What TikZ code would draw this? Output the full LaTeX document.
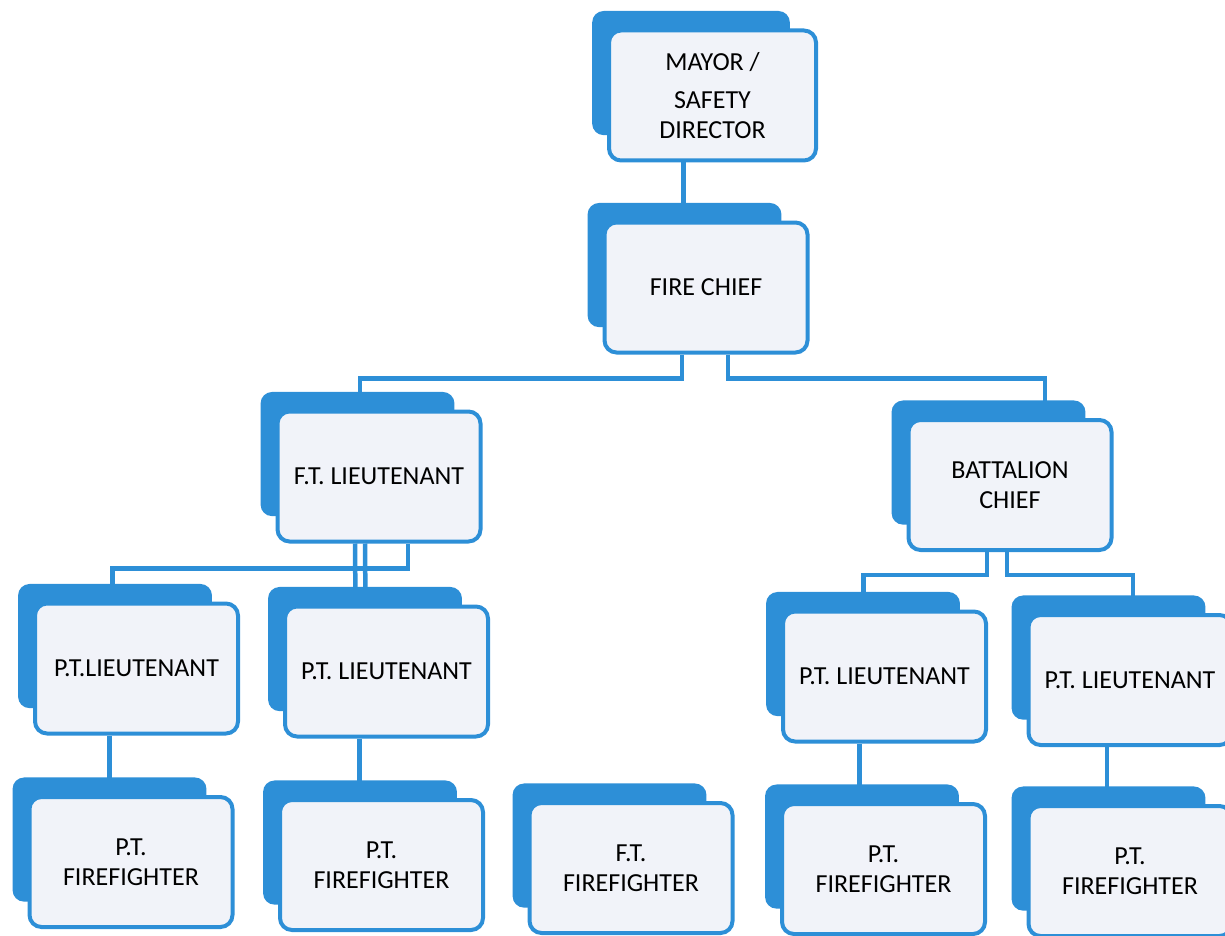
\documentclass[tikz,border=0pt]{standalone}
\usepackage{fontspec}
\setmainfont{Carlito}
\usetikzlibrary{shadows,backgrounds}
\definecolor{orgblue}{RGB}{45,143,215}
\definecolor{boxfill}{RGB}{241,243,249}
\tikzset{
	box/.style={draw=orgblue,line width=4pt,fill=boxfill,rounded corners=12pt,
		minimum width=203pt,minimum height=130pt,align=center,
		font=\fontsize{26}{30}\selectfont,
		general shadow={draw=none,fill=orgblue,shadow xshift=-22.5pt,shadow yshift=23.5pt,shadow scale=0.955}},
	link/.style={draw=orgblue,line width=4.5pt}
}
\begin{document}
\begin{tikzpicture}[x=1pt,y=-1pt]
	\useasboundingbox (0,0) rectangle (1225,936);
	\node[box,minimum width=207pt] (mayor) at (712.5,95.5) {MAYOR /\\[8pt]SAFETY\\DIRECTOR};
	\node[box] (chief) at (706,287.5) {FIRE CHIEF};
	\node[box] (ftlt) at (379,476.5) {F.T. LIEUTENANT};
	\node[box] (batt) at (1010,485) {BATTALION\\CHIEF};
	\node[box] (ptlt1) at (136.5,668.5) {P.T.LIEUTENANT};
	\node[box] (ptlt2) at (386.5,671.5) {P.T. LIEUTENANT};
	\node[box] (ptlt3) at (884.5,676.5) {P.T. LIEUTENANT};
	\node[box] (ptlt4) at (1130,680) {P.T. LIEUTENANT};
	\node[box] (ff1) at (131,862) {P.T.\\FIREFIGHTER};
	\node[box] (ff2) at (381.5,865) {P.T.\\FIREFIGHTER};
	\node[box] (ff3) at (631,868) {F.T.\\FIREFIGHTER};
	\node[box] (ff4) at (883.5,869) {P.T.\\FIREFIGHTER};
	\node[box] (ff5) at (1130,871) {P.T.\\FIREFIGHTER};
	
	% connectors sit behind the boxes
	\begin{scope}[on background layer]
		\draw[link] ([xshift=-29pt]mayor.south) -- ([xshift=-29pt]mayor.south |- chief.north);
		\draw[link] ([xshift=-24pt]chief.south) -- ++(0,24) -| ([xshift=-19pt]ftlt.north);
		\draw[link] ([xshift=22pt]chief.south) -- ++(0,24) -| ([xshift=35pt]batt.north);
		\draw[link] ([xshift=29pt]ftlt.south) -- ++(0,25) -| ([xshift=-24pt]ptlt1.north);
		\draw[link] ([xshift=-24pt]ftlt.south) -- ([xshift=-31pt]ptlt2.north);
		\draw[link] ([xshift=-14pt]ftlt.south) -- ([xshift=-21pt]ptlt2.north);
		\draw[link] ([xshift=-23pt]batt.south) -- ++(0,23) -| ([xshift=-21pt]ptlt3.north);
		\draw[link] ([xshift=-3pt]batt.south) -- ++(0,23) -| ([xshift=3pt]ptlt4.north);
		\draw[link] ([xshift=-27pt]ptlt1.south) -- ([xshift=-27pt]ptlt1.south |- ff1.north);
		\draw[link] ([xshift=-27pt]ptlt2.south) -- ([xshift=-27pt]ptlt2.south |- ff2.north);
		\draw[link] ([xshift=-25pt]ptlt3.south) -- ([xshift=-25pt]ptlt3.south |- ff4.north);
		\draw[link] ([xshift=-23pt]ptlt4.south) -- ([xshift=-23pt]ptlt4.south |- ff5.north);
	\end{scope}
\end{tikzpicture}
\end{document}
